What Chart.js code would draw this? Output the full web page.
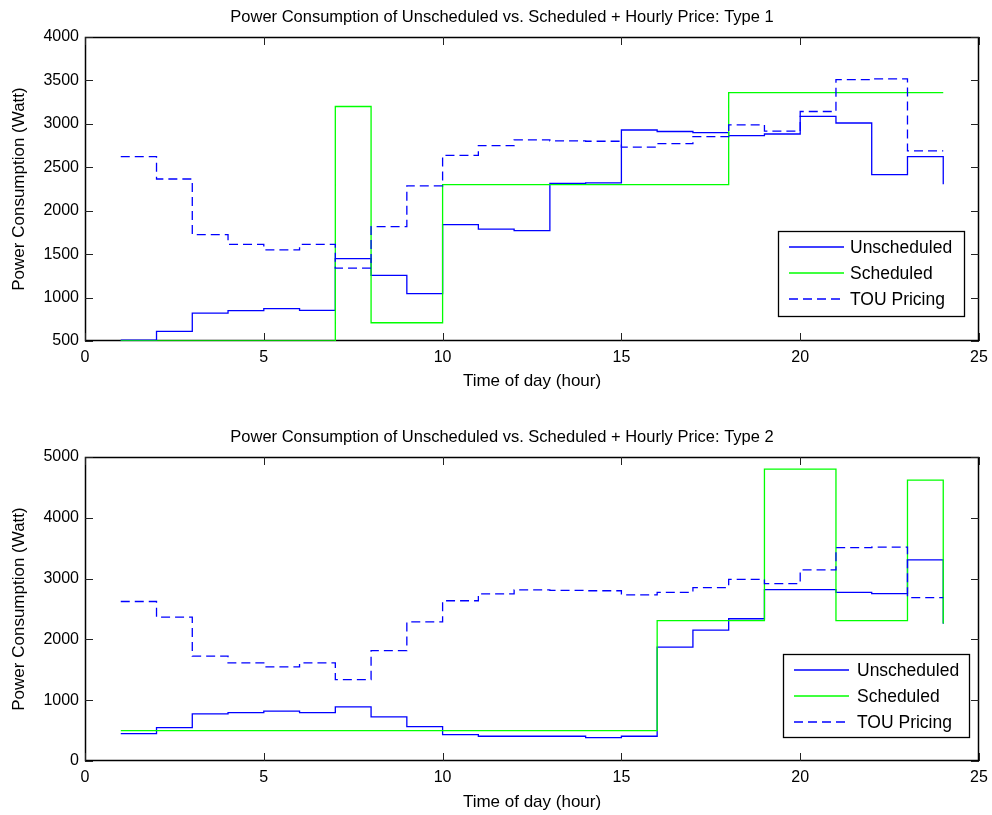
<!DOCTYPE html>
<html><head><meta charset="utf-8">
<script src="https://cdn.jsdelivr.net/npm/chart.js@4.4.1/dist/chart.umd.min.js"></script>
<style>
html,body{margin:0;padding:0;background:#fff;}
#wrap{position:relative;width:992px;height:815px;overflow:hidden;background:#fff;}
canvas{position:absolute;left:0;}
</style></head><body>
<div id="wrap">
<canvas id="c1" width="992" height="407" style="top:0px"></canvas>
<canvas id="c2" width="992" height="408" style="top:407px"></canvas>
</div>
<script>
// ---- data ----
const hours = [1,2,3,4,5,6,7,8,9,10,11,12,13,14,15,16,17,18,19,20,21,22,23,24];
const type1Unscheduled = [510,610,822,850,873,853,1449,1256,1046,1840,1789,1771,2315,2320,2929,2912,2900,2864,2883,3087,3010,2416,2623,2304];
const type1Scheduled = [500,500,500,500,500,500,3200,710,710,2300,2300,2300,2300,2300,2300,2300,2300,3360,3360,3360,3360,3360,3360,3360];
const type2Unscheduled = [451,550,775,797,819,797,890,725,567,435,407,407,407,385,407,1874,2154,2340,2818,2818,2775,2752,3307,2258];
const type2Scheduled = [500,500,500,500,500,500,500,500,500,500,500,500,500,500,500,2310,2310,2310,4800,4800,2310,2310,4621,2260];
const touPricing = [2623,2365,1725,1613,1548,1613,1340,1817,2287,2636,2750,2815,2805,2800,2733,2772,2853,2988,2916,3142,3510,3518,2688,2688];
const seriesLabels = ['Unscheduled','Scheduled','TOU Pricing'];
const xTicksMax = 25;
const title1 = 'Power Consumption of Unscheduled vs. Scheduled + Hourly Price: Type 1';
const title2 = 'Power Consumption of Unscheduled vs. Scheduled + Hourly Price: Type 2';
const xTitle = 'Time of day (hour)';
const yTitle = 'Power Consumption (Watt)';

const FONT = "'Liberation Sans', Arial, Helvetica, sans-serif";

function mkDs(label, vals, color, dash, order) {
  return {
    label, data: hours.map((h, i) => ({x: h, y: vals[i]})),
    borderColor: color, backgroundColor: color, borderWidth: 1.3,
    borderDash: dash, stepped: 'before', pointRadius: 0, pointHoverRadius: 0,
    fill: false, tension: 0, order
  };
}

const frame = {
  id: 'frame',
  beforeDatasetsDraw(chart) {
    const {ctx, chartArea: a, scales: {x, y}} = chart;
    ctx.save();
    ctx.strokeStyle = '#000'; ctx.lineWidth = 1.5; ctx.setLineDash([]);
    ctx.strokeRect(a.left + 0.5, a.top + 0.5, a.right - a.left - 1, a.bottom - a.top - 1);
    const tl = 8;
    ctx.lineWidth = 1;
    ctx.strokeStyle = '#222';
    ctx.beginPath();
    x.ticks.forEach(t => {
      const p = Math.round(x.getPixelForValue(t.value)) + 0.5;
      ctx.moveTo(p, a.bottom); ctx.lineTo(p, a.bottom - tl);
      ctx.moveTo(p, a.top); ctx.lineTo(p, a.top + tl);
    });
    y.ticks.forEach(t => {
      const p = Math.round(y.getPixelForValue(t.value)) + 0.5;
      ctx.moveTo(a.left, p); ctx.lineTo(a.left + tl, p);
      ctx.moveTo(a.right, p); ctx.lineTo(a.right - tl, p);
    });
    ctx.stroke();
    ctx.restore();
  },
  afterDraw(chart, args, o) {
    const {ctx, chartArea: a} = chart;
    ctx.save();
    ctx.fillStyle = '#000';
    ctx.font = '16.5px ' + FONT;
    ctx.textAlign = 'center'; ctx.textBaseline = 'alphabetic';
    ctx.fillText(o.title, o.titleX, o.titleY);
    // legend
    const L = o.legend;
    const bx = a.right - L.right - L.w, by = a.bottom - L.bottom - L.h;
    ctx.fillStyle = '#fff';
    ctx.fillRect(bx, by, L.w, L.h);
    ctx.strokeStyle = '#000'; ctx.lineWidth = 1.3; ctx.setLineDash([]);
    ctx.strokeRect(Math.round(bx) + 0.5, Math.round(by) + 0.5, L.w, L.h);
    ctx.font = '17.5px ' + FONT;
    ctx.textAlign = 'left'; ctx.textBaseline = 'middle';
    chart.data.datasets.forEach((ds, i) => {
      const yy = Math.round(by + 16 + i * 26);
      ctx.strokeStyle = ds.borderColor; ctx.lineWidth = 1.3;
      ctx.setLineDash(ds.borderDash || []);
      ctx.beginPath(); ctx.moveTo(bx + 11, yy); ctx.lineTo(bx + 66, yy); ctx.stroke();
      ctx.setLineDash([]);
      ctx.fillStyle = '#000';
      ctx.fillText(ds.label, bx + L.textX, yy + 1);
    });
    ctx.restore();
  }
};

function makeChart(id, un, sc, yMin, yMax, yStep, cfg) {
  return new Chart(document.getElementById(id), {
    type: 'line',
    data: {
      datasets: [
        mkDs(seriesLabels[0], un, '#0000ff', [], 3),
        mkDs(seriesLabels[1], sc, '#00ff00', [], 2),
        mkDs(seriesLabels[2], touPricing, '#0000ff', [9, 5], 1)
      ]
    },
    options: {
      responsive: false, animation: false, devicePixelRatio: 1,
      layout: {padding: {top: cfg.padTop, right: 13, left: 0, bottom: 0}},
      plugins: {
        legend: {display: false}, tooltip: {enabled: false}, title: {display: false},
        frame: cfg.frame
      },
      scales: {
        x: {
          type: 'linear', min: 0, max: xTicksMax,
          grid: {display: false, drawTicks: false}, border: {display: false},
          ticks: {stepSize: 5, color: '#000', font: {family: FONT, size: 16}, padding: cfg.xTickPad, maxRotation: 0, callback: v => String(v)},
          title: {display: true, text: xTitle, color: '#000', font: {family: FONT, size: 17}, padding: {top: 0, bottom: cfg.xTitlePad}},
          afterFit: s => { s.height = cfg.xHeight; s.paddingLeft = 0; s.paddingRight = 0; }
        },
        y: {
          type: 'linear', min: yMin, max: yMax,
          grid: {display: false, drawTicks: false}, border: {display: false},
          ticks: {stepSize: yStep, color: '#000', font: {family: FONT, size: 16}, padding: 6, callback: v => String(v)},
          title: {display: true, text: yTitle, color: '#000', font: {family: FONT, size: 17}, padding: {top: 9, bottom: 0}},
          afterFit: s => { s.width = 85; s.paddingTop = 0; s.paddingBottom = 0; }
        }
      }
    },
    plugins: [frame]
  });
}

makeChart('c1', type1Unscheduled, type1Scheduled, 500, 4000, 500, {
  padTop: 37, xHeight: 66, xTickPad: 7, xTitlePad: 15,
  frame: {title: title1, titleX: 502, titleY: 22, legend: {right: 15, bottom: 25, w: 186, h: 85, textX: 72}}
});
makeChart('c2', type2Unscheduled, type2Scheduled, 0, 5000, 1000, {
  padTop: 50, xHeight: 54, xTickPad: 7, xTitlePad: 2,
  frame: {title: title2, titleX: 502, titleY: 35, legend: {right: 10, bottom: 24, w: 186, h: 83, textX: 74}}
});
</script>
</body></html>
